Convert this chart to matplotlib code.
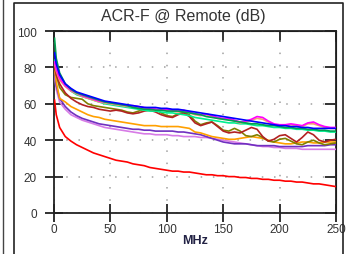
import numpy as np
import matplotlib
matplotlib.use("Agg")
import matplotlib.pyplot as plt
from matplotlib.lines import Line2D

plt.rcParams['font.family'] = ['Liberation Sans', 'DejaVu Sans']

# frequency points (MHz)
freq = [0.5, 2,
        5, 10, 15, 20, 25, 30, 35, 40, 45, 50,
        55, 60, 65, 70, 75, 80, 85, 90, 95, 100,
        105, 110, 115, 120, 125, 130, 135, 140, 145, 150,
        155, 160, 165, 170, 175, 180, 185, 190, 195, 200,
        205, 210, 215, 220, 225, 230, 235, 240, 245, 250]

# ACR-F per pair combination (dB)
red = [62, 54,
       47, 42, 39.5, 37.5, 36, 34.5, 33, 32, 31, 30,
       29, 28.5, 28, 27, 26.5, 26, 25, 24.5, 24, 23.5,
       23, 23, 22.5, 22.5, 22, 21.5, 21, 21, 20.5, 20.5,
       20, 20, 19.5, 19.5, 19, 19, 18.5, 18.5, 18, 18,
       17.5, 17.5, 17, 17, 16.5, 16, 16, 15.5, 15, 14.5]
orange = [79, 72,
          63, 61, 58.5, 57, 55.5, 54, 53, 52.5, 51.5, 51,
          50.5, 50, 49.5, 49, 48.5, 48, 48, 48, 47.5, 47.5,
          47.5, 47.5, 47, 46.5, 44.5, 44, 43, 42, 41.5, 41,
          40.5, 40.5, 41, 41.5, 42, 41.5, 41, 40, 39, 38.5,
          38, 38, 38.5, 39, 39, 38.5, 38.5, 39, 39, 39]
orchid = [75, 68,
          61, 57, 54, 52.5, 51, 50, 49, 48, 47, 46.5,
          46, 45.5, 45, 44.5, 44, 43.5, 43.5, 43, 43, 43,
          42.5, 42.5, 42, 42, 42, 41.5, 41.5, 41, 40.5, 40,
          39.5, 39, 38.5, 38, 37.5, 37, 36.5, 36.5, 36, 36,
          35.5, 35.5, 35.5, 35, 35, 35, 35, 35, 35, 35]
purple = [77, 70,
          63, 58.5, 55.5, 53.5, 52, 51, 50, 49, 48.5, 48,
          47.5, 47, 46.5, 46, 46, 45.5, 45.5, 45, 45, 45,
          45, 44.5, 44.5, 44, 43.5, 43, 42, 41, 40, 39,
          38.5, 38, 38, 38, 37.5, 37, 37, 37, 37, 36.5,
          36.5, 36.5, 36.5, 36.5, 37, 37, 37, 37, 37.5, 37.5]
olive = [82, 76,
         69, 65, 63.5, 63, 62.5, 60, 59, 58.5, 58, 57.5,
         57, 56.5, 55.5, 55, 56, 57, 57.5, 57, 55, 53.5,
         53, 54.5, 55.5, 54, 50.5, 48.5, 49.5, 50, 48, 45.5,
         45, 46.5, 45, 42.5, 42, 43, 41.5, 39.5, 39, 40.5,
         41, 39.5, 38, 37.5, 39, 40, 38.5, 37.5, 38, 38.5]
brown = [80, 76,
         71, 66, 63, 61, 59.5, 58.5, 58, 57, 56.5, 56,
         56.5, 56, 55, 54.5, 55, 56, 56.5, 55.5, 54, 53,
         52.5, 54, 55, 53, 49.5, 48, 49, 50, 47.5, 45,
         44, 44.5, 44, 45.5, 47, 46, 42, 39.5, 40.5, 42.5,
         43, 41, 39, 41.5, 44.5, 43, 40, 39, 40, 40.5]
spring = [84, 80,
          75, 70, 67, 65, 64, 63, 62, 61, 60, 59.5,
          59, 58.5, 58, 57.5, 57, 56.5, 56, 56, 55.5, 55,
          55, 54.5, 54, 53.5, 52.5, 52, 51.5, 51, 50.5, 50,
          49.5, 49.5, 49, 49, 48.5, 48, 48, 47.5, 47, 47,
          46.5, 46.5, 46, 46, 45.5, 45.5, 45, 45, 44.5, 44.5]
salmon = [82, 78,
          73, 69.5, 67, 65.5, 64, 63, 62, 61, 60.5, 60,
          59.5, 59, 58.5, 58.5, 58, 57.5, 57, 56.5, 56.5, 56.5,
          56, 55.5, 56, 55, 54, 53.5, 54, 53, 52, 51.5,
          51.5, 50.5, 49.5, 50, 51, 52, 51.5, 50, 48.5, 48,
          48, 48.5, 48, 47.5, 49, 49, 48, 47, 46.5, 46.5]
magenta = [83, 79,
           74, 70, 67.5, 66, 64.5, 63.5, 62.5, 61.5, 61, 60.5,
           60, 59.5, 59, 59, 58.5, 58, 57.5, 57, 57, 57,
           56.5, 56, 56.5, 55.5, 54.5, 54, 54.5, 53.5, 52.5, 52,
           52, 51, 50, 50.5, 51.5, 53, 52.5, 50.5, 49, 48.5,
           48.5, 49, 48.5, 48, 49.5, 50, 48.5, 47.5, 47, 47]
green = [96, 85,
         77, 71, 68, 66, 65, 64, 63, 62, 61, 60.5,
         60, 59.5, 59, 58, 57.5, 57, 57, 56.5, 56.5, 56,
         56, 56, 55.5, 55, 54.5, 54, 53, 52.5, 52, 51.5,
         51, 50.5, 50, 49.5, 49, 49, 48.5, 48, 48, 47.5,
         47, 47, 46.5, 46.5, 46, 46, 45.5, 45.5, 45, 45]
blue = [88, 82,
        76, 71, 68.5, 66.5, 65.5, 64.5, 63.5, 62.5, 61.5, 61,
        60.5, 60, 59.5, 59, 58.5, 58, 58, 58, 57.5, 57.5,
        57, 57, 56.5, 56, 55.5, 55, 54.5, 54, 53.5, 53,
        52.5, 52, 51.5, 51, 50.5, 50, 49.5, 49, 48.5, 48,
        48, 47.5, 47.5, 47, 47, 46.5, 46.5, 46.5, 46.5, 46.5]

series = [(red, "#FF0000"), (orchid, "#D77BE6"), (purple, "#7030C0"),
          (orange, "#FFA000"), (olive, "#808000"), (brown, "#B22222"),
          (spring, "#00F090"), (salmon, "#F4A070"), (magenta, "#FF00FF"),
          (green, "#00A050"), (blue, "#0000FF")]

xticks = [0, 50, 100, 150, 200, 250]
yticks = [0, 20, 40, 60, 80, 100]

fig = plt.figure(figsize=(3.49, 2.55), dpi=100)
ax = fig.add_axes([0.1547, 0.1608, 0.8081, 0.7137])

for vals, col in series:
    ax.plot(freq, vals, color=col, lw=1.2, zorder=3)

ax.set_xlim(0, 250)
ax.set_ylim(0, 100)
ax.set_xticks(xticks)
ax.set_yticks(yticks)
ax.grid(True, color="#A0A0A0", linestyle=(0, (1, 7)), lw=1.1)
for s in ax.spines.values():
    s.set_linewidth(1.3)
    s.set_color("#222222")
ax.tick_params(direction="inout", length=13, width=1.3, color="#222222",
               labelsize=8.5, labelcolor="#333333")
ax.tick_params(axis="y", pad=6)
ax.tick_params(axis="x", pad=1)

top = ax.secondary_xaxis("top")
top.set_xticks(xticks)
top.tick_params(direction="in", length=8, width=1.3, color="#222222", labeltop=False)
right = ax.secondary_yaxis("right")
right.set_yticks(yticks)
right.tick_params(direction="in", length=8, width=1.3, color="#222222", labelright=False)

ax.set_xlabel("MHz", fontsize=9, fontweight="bold", color="#222244", labelpad=-1)
fig.text(0.525, 0.935, "ACR-F @ Remote (dB)", fontsize=11.5, color="#333333",
         ha="center", va="center")

# surrounding panel frame
fig.add_artist(Line2D([14/349, 14/349, 343/349, 343/349], [0, 1 - 4/255, 1 - 4/255, 0],
                      transform=fig.transFigure, color="#222222", lw=1.2))
fig.add_artist(Line2D([3/349, 3/349], [0, 1], transform=fig.transFigure,
                      color="#444444", lw=1.0))

fig.savefig("out.png", dpi=100)
